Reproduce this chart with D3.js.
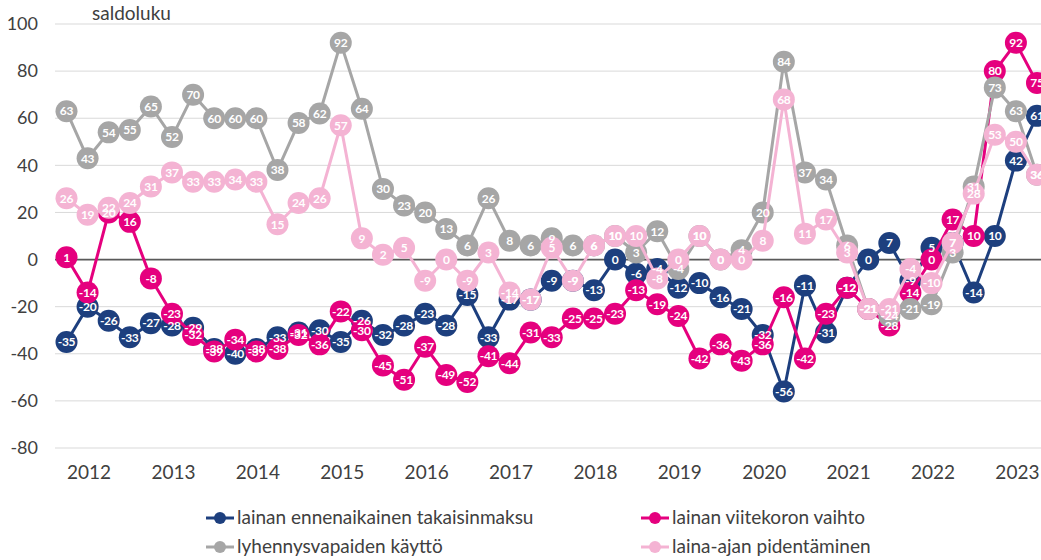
<!DOCTYPE html>
<html><head><meta charset="utf-8">
<script src="https://cdn.jsdelivr.net/npm/d3@7"></script>
<style>
html,body{margin:0;padding:0;background:#fff;overflow:hidden;}
svg{display:block;font-family:Lato,"Liberation Sans",sans-serif;}
</style></head>
<body>
<svg id="chart" width="1041" height="560"></svg>
<script>
const quarters = ["2011Q4",
 "2012Q1","2012Q2","2012Q3","2012Q4","2013Q1","2013Q2","2013Q3","2013Q4",
 "2014Q1","2014Q2","2014Q3","2014Q4","2015Q1","2015Q2","2015Q3","2015Q4",
 "2016Q1","2016Q2","2016Q3","2016Q4","2017Q1","2017Q2","2017Q3","2017Q4",
 "2018Q1","2018Q2","2018Q3","2018Q4","2019Q1","2019Q2","2019Q3","2019Q4",
 "2020Q1","2020Q2","2020Q3","2020Q4","2021Q1","2021Q2","2021Q3","2021Q4",
 "2022Q1","2022Q2","2022Q3","2022Q4","2023Q1","2023Q2"];
const yearLabels = ["2012","2013","2014","2015","2016","2017","2018","2019","2020","2021","2022","2023"];
const yTicks = [100,80,60,40,20,0,-20,-40,-60,-80];

const seriesNames = ["lainan ennenaikainen takaisinmaksu","lainan viitekoron vaihto","lyhennysvapaiden käyttö","laina-ajan pidentäminen"];
const seriesColors = ["#1d3f7e","#e5007e","#a6a6a6","#f4b3d3"];

const takaisinmaksu = [-35,-20,-26,-33,-27,-28,-29,-38,-40,-38,-33,-31,-30,-35,-26,-32,-28,-23,-28,-15,-33,-17,-17,-9,-9,-13,0,-6,-4,-12,-10,-16,-21,-32,-56,-11,-31,-12,0,7,-9,5,7,-14,10,42,61];
const viitekorko = [1,-14,20,16,-8,-23,-32,-39,-34,-39,-38,-32,-36,-22,-30,-45,-51,-37,-49,-52,-41,-44,-31,-33,-25,-25,-23,-13,-19,-24,-42,-36,-43,-36,-16,-42,-23,-12,-21,-28,-14,0,17,10,80,92,75];
const lyhennysvapaat = [63,43,54,55,65,52,70,60,60,60,38,58,62,92,64,30,23,20,13,6,26,8,6,9,6,6,10,3,12,-4,10,0,4,20,84,37,34,6,-21,-24,-21,-19,3,31,73,63,36];
const pidentaminen = [26,19,22,24,31,37,33,33,34,33,15,24,26,57,9,2,5,-9,0,-9,3,-14,-17,5,-9,6,10,10,-8,0,10,0,0,8,68,11,17,3,-21,-21,-4,-10,7,28,53,50,36];

const seriesValues = [takaisinmaksu, viitekorko, lyhennysvapaat, pidentaminen];

const svg = d3.select("#chart");
const x = d3.scalePoint().domain(quarters).range([66.5, 1037]);
const y = d3.scaleLinear().domain([-80, 100]).range([448, 24]);

// gridlines
svg.append("g").selectAll("line").data(yTicks.filter(d => d !== 0)).join("line")
  .attr("x1", 55).attr("x2", 1041)
  .attr("y1", d => y(d)).attr("y2", d => y(d))
  .attr("stroke", "#d9d9d9").attr("stroke-width", 1);

// y axis labels
const yAxis = d3.axisLeft(y).tickValues(yTicks).tickFormat(d => String(d)).tickSize(0).tickPadding(0);
const yg = svg.append("g").attr("transform", "translate(38,0)").call(yAxis);
yg.select(".domain").remove();
yg.selectAll("text").attr("font-size", 18).attr("fill", "#404040")
  .attr("font-family", "Lato, sans-serif");

// zero line
svg.append("line").attr("x1", 55).attr("x2", 1041)
  .attr("y1", y(0)).attr("y2", y(0))
  .attr("stroke", "#595959").attr("stroke-width", 1.8);

// x axis labels (at Q1 of each year)
const xAxis = d3.axisBottom(x).tickValues(yearLabels.map(yr => yr + "Q1"))
  .tickFormat(d => d.slice(0, 4)).tickSize(0).tickPadding(0);
const xg = svg.append("g").attr("transform", "translate(1,465)").call(xAxis);
xg.select(".domain").remove();
xg.selectAll("text").attr("font-size", 19).attr("fill", "#404040")
  .attr("font-family", "Lato, sans-serif");

// title
svg.append("text").attr("x", 92).attr("y", 20).text("saldoluku")
  .attr("font-size", 19).attr("fill", "#404040");

const line = d3.line().x((d, i) => x(quarters[i])).y(d => y(d));

seriesValues.forEach((vals, s) => {
  const g = svg.append("g");
  g.append("path").datum(vals).attr("d", line)
    .attr("fill", "none").attr("stroke", seriesColors[s]).attr("stroke-width", 3)
    .attr("stroke-linejoin", "round");
  g.selectAll("circle").data(vals).join("circle")
    .attr("cx", (d, i) => x(quarters[i])).attr("cy", d => y(d)).attr("r", 11)
    .attr("fill", seriesColors[s]);
});

// labels on top
seriesValues.forEach((vals, s) => {
  svg.append("g").selectAll("text").data(vals).join("text")
    .attr("x", (d, i) => x(quarters[i])).attr("y", d => y(d) + 4.3)
    .attr("text-anchor", "middle").attr("font-size", 12).attr("font-weight", "bold")
    .attr("fill", "#fff").attr("letter-spacing", -0.3)
    .text(d => String(d));
});

// legend
const legendItems = [
  {s: 0, x: 206, y: 518}, {s: 1, x: 641, y: 518},
  {s: 2, x: 206, y: 547}, {s: 3, x: 641, y: 547}
];
const lg = svg.append("g");
legendItems.forEach(it => {
  lg.append("line").attr("x1", it.x).attr("x2", it.x + 28).attr("y1", it.y).attr("y2", it.y)
    .attr("stroke", seriesColors[it.s]).attr("stroke-width", 3);
  lg.append("circle").attr("cx", it.x + 14).attr("cy", it.y).attr("r", 6)
    .attr("fill", seriesColors[it.s]);
  lg.append("text").attr("x", it.x + 31).attr("y", it.y + 6).text(seriesNames[it.s])
    .attr("font-size", 19).attr("fill", "#404040");
});
</script>
</body></html>
